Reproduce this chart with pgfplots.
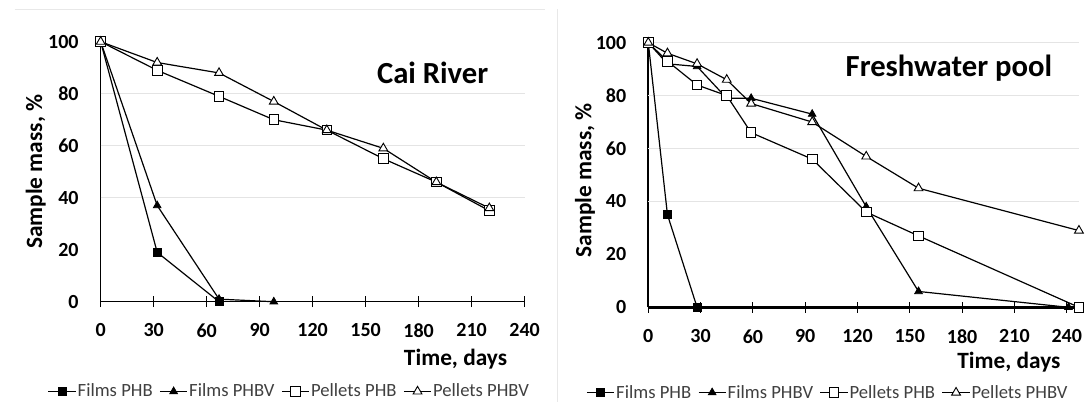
\documentclass[border=0pt]{standalone}
\usepackage{fontspec}
\setmainfont{Carlito}
\usepackage{pgfplots}
\pgfplotsset{compat=1.18}

\definecolor{gridgray}{HTML}{E4E4E4}
\definecolor{legtext}{HTML}{404040}

\pgfplotsset{
  massplot/.style={
    scale only axis,
    axis lines*=left,
    clip=false,
    ymin=0, ymax=100,
    ytick={0,20,...,100},
    xtick={0,30,...,240},
    major tick length=8pt,
    tick align=center,
    ytick style={draw=none},
    xtick style={black, line width=0.8pt},
    tick label style={font=\bfseries\fontsize{15}{18}\selectfont},
    /pgf/number format/assume math mode=true,
    yticklabel style={xshift=-9pt},
    xticklabel style={yshift=-9pt},
    label style={font=\bfseries\fontsize{17.5}{21}\selectfont},
    title style={font=\bfseries\fontsize{23}{27}\selectfont, anchor=center},
    extra tick style={grid=major, major grid style={gridgray, line width=1pt}},
    legend columns=4,
    legend style={draw=none, fill=none, anchor=center, inner sep=1pt,
      font=\fontsize{14}{16}\selectfont, text=legtext,
      /tikz/every even column/.append style={column sep=3pt},
      /tikz/every odd column/.append style={column sep=-1pt}},
    legend image code/.code={%
      \draw[mark repeat=2,mark phase=2] plot coordinates {(0cm,0cm) (0.36cm,0cm) (0.72cm,0cm)};},
    every axis plot/.append style={black, line width=0.9pt},
  },
  fphb/.style={mark=square*, mark size=3pt, mark options={fill=black, line width=0.6pt}},
  fphbv/.style={mark=triangle*, mark size=3.3pt, mark options={fill=black, line width=0.6pt}},
  pphb/.style={mark=square*, mark size=3.6pt, mark options={fill=white, line width=0.7pt}},
  pphbv/.style={mark=triangle*, mark size=3.8pt, mark options={fill=white, line width=0.7pt}},
}

\begin{document}
\begin{tikzpicture}
\useasboundingbox (0,0) rectangle (816.75pt,-301.5pt);
\draw[gray!18, line width=0.6pt] (11pt,-7pt) -- (409pt,-7pt);
\draw[gray!18, line width=0.6pt] (418pt,-7pt) -- (418pt,-301.5pt);

% Cai River
\begin{axis}[massplot,
    at={(75.5pt,-226.3pt)}, anchor=south west,
    width=318pt, height=195pt,
    xmin=0, xmax=240,
    extra y ticks={40,60,80}, extra y tick labels={},
    y axis line style={line width=1pt},
    x axis line style={line width=1pt},
    title={Cai River},
    title style={at={(axis description cs:0.783,0.85)}},
    xlabel={Time, days},
    xlabel style={at={(axis description cs:0.837,-0.22)}, anchor=center},
    ylabel={Sample mass, \%},
    ylabel style={at={(axis description cs:-0.153,0.5)}, anchor=center},
    legend style={at={(axis description cs:0.446,-0.345)}},
  ]
\addplot[fphb] coordinates {(0,100) (32,19) (67,0)};
\addplot[fphbv] coordinates {(0,100) (32,37) (67,1) (98,0)};
\addplot[pphb] coordinates {(0,100) (32,89) (67,79) (98,70) (128,66) (160,55) (190,46) (220,35)};
\addplot[pphbv] coordinates {(0,100) (32,92) (67,88) (98,77) (128,66) (160,59) (190,46) (220,36)};
\legend{Films PHB, Films PHBV, Pellets PHB, Pellets PHBV}
\end{axis}

% Freshwater pool
\begin{axis}[massplot,
    at={(486.2pt,-230.5pt)}, anchor=south west,
    width=323pt, height=198.5pt,
    xmin=0, xmax=247,
    extra y ticks={40,60,80,100}, extra y tick labels={},
    y axis line style={line width=1.4pt},
    x axis line style={line width=2pt},
    title={Freshwater pool},
    title style={at={(axis description cs:0.698,0.875)}},
    xlabel={Time, days},
    xlabel style={at={(axis description cs:0.8375,-0.207)}, anchor=center},
    ylabel={Sample mass, \%},
    ylabel style={at={(axis description cs:-0.147,0.48)}, anchor=center},
    legend style={at={(axis description cs:0.418,-0.322)}},
  ]
\addplot[fphb] coordinates {(0,100) (11,35) (28,0)};
\addplot[fphbv] coordinates {(0,100) (11,92) (28,91) (45,79) (59,79) (94,73) (125,38) (155,6) (241,0)};
\addplot[pphb] coordinates {(0,100) (11,93) (28,84) (45,80) (59,66) (94,56) (125,36) (155,27) (247,0)};
\addplot[pphbv] coordinates {(0,100) (11,96) (28,92) (45,86) (59,77) (94,70) (125,57) (155,45) (247,29)};
\legend{Films PHB, Films PHBV, Pellets PHB, Pellets PHBV}
\end{axis}
\end{tikzpicture}
\end{document}
